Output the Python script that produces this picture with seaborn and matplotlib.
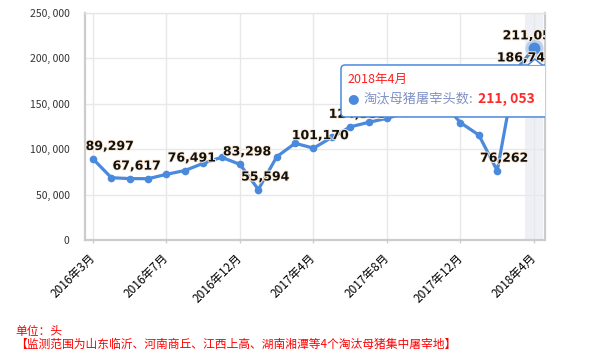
import matplotlib
matplotlib.use("Agg")
import matplotlib.pyplot as plt
import matplotlib.patheffects as pe
from matplotlib.patches import FancyBboxPatch, Polygon
import seaborn as sns
import pandas as pd

# ---- data ----
months = ["2016年3月", "2016年4月", "2016年5月", "2016年6月", "2016年7月", "2016年8月",
          "2016年9月", "2016年10月", "2016年12月", "2017年1月", "2017年2月", "2017年3月",
          "2017年4月", "2017年5月", "2017年6月", "2017年7月", "2017年8月", "2017年9月",
          "2017年10月", "2017年11月", "2017年12月", "2018年1月", "2018年2月", "2018年3月",
          "2018年4月"]
sows = [89297, 68600, 67617, 67500, 72350, 76491, 84470, 91100, 83298, 55594,
        91700, 106500, 101170, 113000, 124588, 129600, 134000, 140000, 146000, 152000,
        129200, 115600, 76262, 186745, 211053]
label_idx = [0, 2, 5, 8, 9, 12, 14, 22, 23, 24]
tick_idx = [0, 4, 8, 12, 16, 20, 24]
yticks = [0, 50000, 100000, 150000, 200000, 250000]
series_name = "淘汰母猪屠宰头数"
hover_idx = 24
unit_text = "单位：头"
note_text = "【监测范围为山东临沂、河南商丘、江西上高、湖南湘潭等4个淘汰母猪集中屠宰地】"

df = pd.DataFrame({"idx": range(len(months)), "month": months, "value": sows})

sns.set_theme(style="white")
plt.rcParams["font.family"] = ["Noto Sans CJK SC", "DejaVu Sans"]

LINE = "#4a89dc"
fig = plt.figure(figsize=(5.92, 3.59), dpi=100)
ax = fig.add_axes([85 / 592, 1 - 240 / 359, 460 / 592, 227 / 359])

# hover shadow band
ax.axvspan(hover_idx - 0.5, hover_idx + 0.5, color="#eef0f6", zorder=0.3, lw=0)

sns.lineplot(data=df, x="idx", y="value", ax=ax, color=LINE, lw=2.3,
             marker="o", markersize=5.5, markeredgewidth=0, zorder=3)

# highlighted point
hx, hy = df["idx"][hover_idx], df["value"][hover_idx]
ax.plot([hx], [hy], "o", color=LINE, ms=13, alpha=0.3, mew=0, zorder=3.5)
ax.plot([hx], [hy], "o", color=LINE, ms=8.5, mew=0, zorder=3.6)

ax.set_xlim(-0.435, 24.6)
ax.set_ylim(0, 250000)
ax.set_xticks(tick_idx)
ax.set_xticklabels([months[i] for i in tick_idx])
ax.set_yticks(yticks)
ax.set_yticklabels([f"{v:,}".replace(",", ", ") for v in yticks])
ax.set_xlabel("")
ax.set_ylabel("")

ax.grid(True, color="#e8e8e8", lw=1)
ax.set_axisbelow(True)
for s in ["left", "bottom", "right"]:
    ax.spines[s].set_color("#cccccc")
    ax.spines[s].set_linewidth(1.6)
ax.spines["top"].set_color("#e6e6e6")
ax.spines["top"].set_linewidth(1)

ax.tick_params(axis="y", length=0, pad=11, labelsize=7.5, labelcolor="#333333")
ax.tick_params(axis="x", length=2.5, width=1, color="#cccccc", direction="out",
               pad=9, labelsize=8.5, labelcolor="#000000")
ax.xaxis.set_ticks_position("bottom")
plt.setp(ax.get_xticklabels(), rotation=45, ha="right", va="center",
         rotation_mode="anchor", fontweight="medium")

# data labels
special_dx = {0: 12, 24: -2, 23: 7}
halo = [pe.withStroke(linewidth=1.4, foreground="#fdebd6")]
for i in label_idx:
    dx = special_dx.get(i, 5)
    ax.annotate(f"{sows[i]:,}", (i, sows[i]), xytext=(dx, 9),
                textcoords="offset points", ha="center", va="center",
                fontsize=9, fontweight="bold", color="#111111",
                family="DejaVu Sans", path_effects=halo, zorder=4,
                annotation_clip=False, clip_on=True)

# tooltip
tb = FancyBboxPatch((0.5565, 0.542), 0.6, 0.229, transform=ax.transAxes,
                    boxstyle="round,pad=0,rounding_size=0.009", mutation_aspect=2.03,
                    facecolor="white", edgecolor=LINE, lw=1.1, zorder=6, clip_on=True)
ax.add_patch(tb)
tri = Polygon([(0.963, 0.7712), (0.978, 0.797), (0.9935, 0.7712)], closed=False,
              transform=ax.transAxes, facecolor="white", edgecolor=LINE, lw=1.1,
              zorder=6.1, clip_on=True)
ax.add_patch(tri)
ax.text(0.570, 0.709, months[hover_idx], transform=ax.transAxes, ha="left",
        va="center", fontsize=9, color="#ff1f1f", zorder=7, clip_on=True)
ax.text(0.5705, 0.621, "●", transform=ax.transAxes, ha="left", va="center",
        fontsize=9.5, color=LINE, family="DejaVu Sans", zorder=7, clip_on=True)
ax.text(0.6045, 0.621, series_name + ":", transform=ax.transAxes, ha="left",
        va="center", fontsize=9.5, color="#8093c6", zorder=7, clip_on=True)
ax.text(0.8543, 0.621, f"{hy:,}".replace(",", ", "), transform=ax.transAxes,
        ha="left", va="center", fontsize=10, fontweight="bold", color="#ff2a2a",
        zorder=7, clip_on=True)

# footer
fig.text(15 / 592, 1 - 331 / 359, unit_text, ha="left", va="center",
         fontsize=8.5, color="#ff0000")
fig.text(15 / 592, 1 - 344 / 359, note_text, ha="left", va="center",
         fontsize=8.5, color="#ff0000")

fig.savefig("out.png", dpi=100)
